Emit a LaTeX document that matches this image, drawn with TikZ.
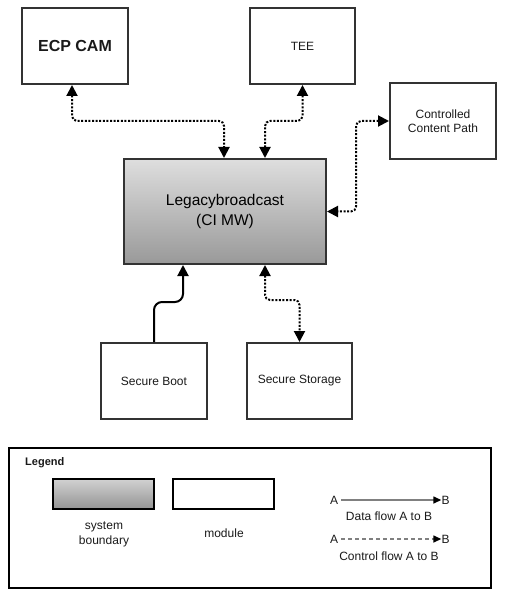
\documentclass[tikz,border=0pt]{standalone}
\usepackage{fontspec}
\setmainfont{Liberation Sans}
\usetikzlibrary{arrows.meta,calc}
\definecolor{bordc}{HTML}{333333}
\definecolor{txtc}{HTML}{1A1A1A}
\definecolor{flowc}{HTML}{808080}
\tikzset{
  modbox/.style={draw=bordc, line width=2pt, fill=white, inner sep=2pt, align=center, text=txtc, font=\fontsize{12}{14}\selectfont},
  dotlink/.style={line width=2pt, dash pattern=on 2pt off 1.6pt, rounded corners=5pt, {Triangle[length=11pt,width=11pt]}-{Triangle[length=11pt,width=11pt]}},
  solidlink/.style={line width=2pt, rounded corners=8pt, -{Triangle[length=11pt,width=11pt]}},
  lgtxt/.style={inner sep=0pt, text=txtc, font=\fontsize{12}{14}\selectfont, align=center},
  lgflow/.style={flowc, line width=1.4pt, -{Triangle[length=8pt,width=7pt,color=black]}}
}
\begin{document}
\begin{tikzpicture}[x=1pt,y=-1pt]
\useasboundingbox (0,0) rectangle (504,601);
% modules
\node[modbox, minimum width=106pt, minimum height=76pt, font=\bfseries\fontsize{16}{19}\selectfont] (ecp) at (75,46) {ECP CAM};
\node[modbox, minimum width=105pt, minimum height=76pt] (tee) at (302.5,46) {TEE};
\node[modbox, minimum width=106pt, minimum height=76pt] (ccp) at (443,121) {Controlled\\Content Path};
\node[draw=bordc, line width=2pt, top color=black!13, bottom color=black!40, minimum width=202pt, minimum height=105pt, align=center, font=\fontsize{15.5}{20}\selectfont] (leg) at (225,211.5) {Legacybroadcast\\(CI MW)};
\node[modbox, minimum width=106pt, minimum height=76pt] (sb) at (154,381) {Secure Boot};
\node[modbox, minimum width=105pt, minimum height=76pt] (ss) at (299.5,381) {Secure Storage};
% connectors
\draw[dotlink] ([xshift=-3pt]ecp.south) -- ++(0,36) -| ([xshift=-1pt]leg.north);
\draw[dotlink] (tee.south) -- ++(0,36) -| ([xshift=40pt]leg.north);
\draw[dotlink] (ccp.west) -- ++(-33,0) |- (leg.east);
\draw[solidlink] (sb.north) -- ++(0,-40) -| ([xshift=-42pt]leg.south);
\draw[dotlink] ([xshift=40pt]leg.south) -- ++(0,35) -| (ss.north);
% legend
\node[draw=black, line width=2pt, minimum width=482pt, minimum height=140pt, inner sep=0pt] (lgbox) at (250,518) {};
\node[lgtxt, anchor=west, font=\bfseries\fontsize{11}{13}\selectfont] (lgtitle) at (25,463) {Legend};
\node[draw=black, line width=2pt, top color=black!18, bottom color=black!42, minimum width=101pt, minimum height=30pt, inner sep=0pt] (lgsys) at (103.5,494) {};
\node[draw=black, line width=2pt, fill=white, minimum width=101pt, minimum height=30pt, inner sep=0pt] (lgmod) at (223.5,494) {};
\node[lgtxt, font=\fontsize{12}{15}\selectfont] (lgsyst) at (104,534) {system\\boundary};
\node[lgtxt] (lgmodt) at (224,533) {module};
\node[lgtxt] (da) at (334,500) {A};
\node[lgtxt] (db) at (445.5,500) {B};
\draw[lgflow] ([xshift=3pt]da.east) -- (db.west);
\node[lgtxt] (dt) at (389,516) {Data flow A to B};
\node[lgtxt] (ca) at (334,539) {A};
\node[lgtxt] (cb) at (445.5,539) {B};
\draw[lgflow, dash pattern=on 4pt off 3pt] ([xshift=3pt]ca.east) -- (cb.west);
\node[lgtxt] (ct) at (389,556) {Control flow A to B};
\end{tikzpicture}
\end{document}
